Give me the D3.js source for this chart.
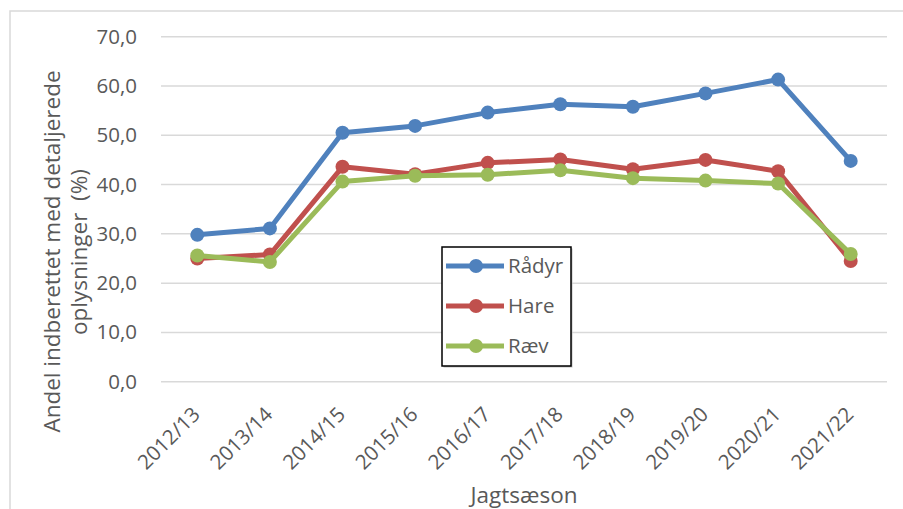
<!DOCTYPE html>
<html>
<head>
<meta charset="utf-8">
<script src="https://cdn.jsdelivr.net/npm/d3@7"></script>
<style>
  body { margin: 0; background: #fff; }
  text { font-family: "Open Sans", sans-serif; fill: #595959; }
</style>
</head>
<body>
<svg id="chart" width="903" height="509"></svg>
<script>
const seasons = ["2012/13", "2013/14", "2014/15", "2015/16", "2016/17", "2017/18", "2018/19", "2019/20", "2020/21", "2021/22"];
const raadyr = [29.8, 31.1, 50.5, 51.9, 54.6, 56.3, 55.8, 58.5, 61.3, 44.8];
const hare = [25.0, 25.8, 43.6, 42.1, 44.4, 45.1, 43.1, 45.0, 42.7, 24.5];
const raev = [25.6, 24.3, 40.6, 41.8, 42.0, 42.9, 41.3, 40.8, 40.2, 25.9];
const yTicks = [0, 10, 20, 30, 40, 50, 60, 70];

const series = [
    {name: "Rådyr", values: raadyr, color: "#4f81bd"},
    {name: "Hare", values: hare, color: "#c0504d"},
    {name: "Ræv", values: raev, color: "#9bbb59"}
];

const svg = d3.select("#chart");
const plotLeft = 161, plotRight = 887, plotTop = 36.7, plotBottom = 381.7;

// outer chart border
svg.append("path")
  .attr("d", "M10,520 V11 H910")
  .attr("fill", "none")
  .attr("stroke", "#d9d9d9")
  .attr("stroke-width", 1.5);

const x = d3.scaleBand().domain(seasons).range([plotLeft, plotRight]);
const y = d3.scaleLinear().domain([0, 70]).range([plotBottom, plotTop]);
const fmt = v => d3.format(".1f")(v).replace(".", ",");

// grid
svg.append("g")
  .selectAll("line")
  .data(yTicks)
  .enter().append("line")
  .attr("x1", plotLeft).attr("x2", plotRight)
  .attr("y1", d => y(d)).attr("y2", d => y(d))
  .attr("stroke", "#d9d9d9")
  .attr("stroke-width", 1.5);

const yAxis = svg.append("g")
  .attr("transform", `translate(${plotLeft},0)`)
  .call(d3.axisLeft(y).tickValues(yTicks).tickFormat(fmt).tickSize(0).tickPadding(24));
yAxis.select(".domain").remove();
yAxis.selectAll("text")
  .style("font-size", "20.5px")
  .attr("fill", "#595959")
  .attr("font-family", "Open Sans");

const xAxis = svg.append("g")
  .attr("transform", `translate(0,${plotBottom})`)
  .call(d3.axisBottom(x).tickSize(0).tickPadding(0));
xAxis.select(".domain").remove();
xAxis.selectAll("text")
  .style("font-size", "20.5px")
  .attr("fill", "#595959")
  .attr("font-family", "Open Sans")
  .attr("text-anchor", "end")
  .attr("dy", 0)
  .attr("y", 0)
  .attr("transform", "translate(4,34) rotate(-45)");

// axis titles
svg.append("text")
  .attr("transform", "translate(60,251.5) rotate(-90)")
  .attr("text-anchor", "middle")
  .style("font-size", "22.5px")
  .text("Andel indberettet med detaljerede");
svg.append("text")
  .attr("transform", "translate(87,252) rotate(-90)")
  .attr("text-anchor", "middle")
  .style("font-size", "22.5px")
  .style("white-space", "pre")
  .text("oplysninger  (%)");
svg.append("text")
  .attr("x", (plotLeft + plotRight) / 2)
  .attr("y", 503)
  .attr("text-anchor", "middle")
  .style("font-size", "22.5px")
  .text("Jagtsæson");

const line = d3.line()
  .x((d, i) => x(seasons[i]) + x.bandwidth() / 2)
  .y(d => y(d));

series.forEach(s => {
    const g = svg.append("g");
    g.append("path")
      .attr("d", line(s.values))
      .attr("fill", "none")
      .attr("stroke", s.color)
      .attr("stroke-width", 5)
      .attr("stroke-linejoin", "round");
    g.selectAll("circle")
      .data(s.values)
      .enter().append("circle")
      .attr("cx", (d, i) => x(seasons[i]) + x.bandwidth() / 2)
      .attr("cy", d => y(d))
      .attr("r", 7)
      .attr("fill", s.color);
});

// legend
const lg = svg.append("g").attr("transform", "translate(442,247)");
lg.append("rect")
  .attr("x", 1.5).attr("y", 1.5).attr("width", 129).attr("height", 119)
  .attr("fill", "#bfbfbf");
lg.append("rect")
  .attr("width", 129).attr("height", 119)
  .attr("fill", "#fff")
  .attr("stroke", "#000")
  .attr("stroke-width", 1.5);
series.forEach((s, i) => {
    const cy = 19 + i * 40;
    lg.append("line")
      .attr("x1", 4).attr("x2", 62)
      .attr("y1", cy).attr("y2", cy)
      .attr("stroke", s.color)
      .attr("stroke-width", 5);
    lg.append("circle")
      .attr("cx", 34).attr("cy", cy).attr("r", 7)
      .attr("fill", s.color);
    lg.append("text")
      .attr("x", 66).attr("y", cy)
      .attr("dy", "0.35em")
      .style("font-size", "20.5px")
      .text(s.name);
});
</script>
</body>
</html>
